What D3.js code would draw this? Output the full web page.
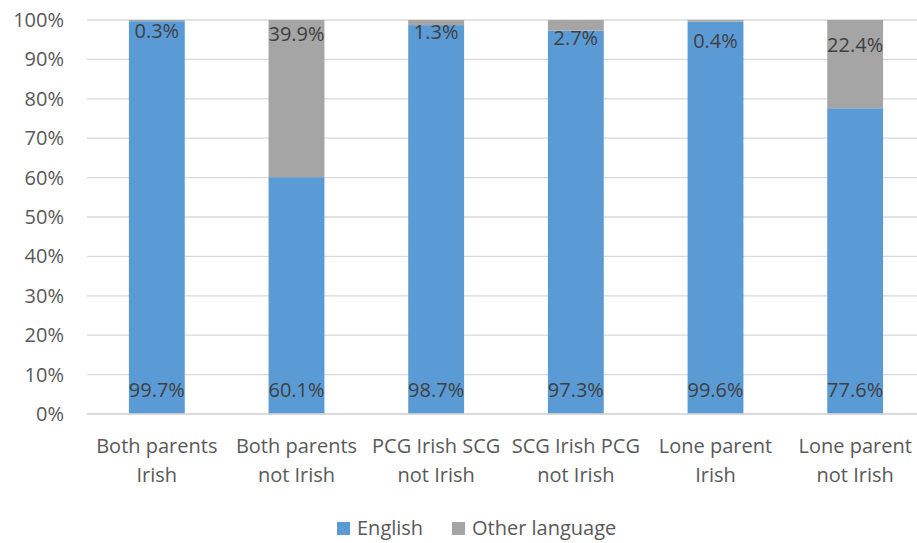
<!DOCTYPE html>
<html><head><meta charset="utf-8">
<script src="https://cdn.jsdelivr.net/npm/d3@7"></script>
<style>body{margin:0;background:#fff}svg{display:block}text{font-family:"Open Sans",sans-serif}</style>
</head><body><svg id="c" width="917" height="543"></svg>
<script>
const categories = [["Both parents","Irish"],["Both parents","not Irish"],["PCG Irish SCG","not Irish"],["SCG Irish PCG","not Irish"],["Lone parent","Irish"],["Lone parent","not Irish"]];
const english = [99.7, 60.1, 98.7, 97.3, 99.6, 77.6];
const other = [0.3, 39.9, 1.3, 2.7, 0.4, 22.4];
const seriesNames = ["English", "Other language"];
const yTicks = [0,10,20,30,40,50,60,70,80,90,100];

// layout
const colors = ["#5B9BD5", "#A5A5A5"];
const otherLabelDy = [11, 14, 12, 18, 21, 25];
const FS = "20px";
const svg = d3.select("#c");
const x = d3.scaleBand().domain(d3.range(categories.length)).range([87, 925]).paddingInner(0.6).paddingOuter(0.3);
const y = d3.scaleLinear().domain([0, 100]).range([414, 20]);

// grid
svg.append("g").selectAll("line").data(yTicks).join("line")
  .attr("x1", 87).attr("x2", 917).attr("y1", d => y(d)).attr("y2", d => y(d))
  .attr("stroke", "#d9d9d9").attr("stroke-width", 1.3);

// y axis labels
const ya = svg.append("g").attr("transform", "translate(64,0)")
  .call(d3.axisLeft(y).tickValues(yTicks).tickFormat(d => d + "%").tickSize(0).tickPadding(0));
ya.select(".domain").remove();
ya.selectAll("text").attr("fill", "#595959").style("font-size", FS).style("font-family", '"Open Sans",sans-serif');

const stack = categories.map((c, i) => ({i, e: english[i], o: other[i]}));
// bars
const g = svg.append("g");
g.selectAll(".e").data(stack).join("rect")
  .attr("x", d => x(d.i)).attr("width", x.bandwidth())
  .attr("y", d => y(d.e)).attr("height", d => y(0) - y(d.e)).attr("fill", colors[0]);
g.selectAll(".o").data(stack).join("rect")
  .attr("x", d => x(d.i)).attr("width", x.bandwidth())
  .attr("y", d => y(d.e + d.o)).attr("height", d => y(d.e) - y(d.e + d.o)).attr("fill", colors[1]);

// redraw zero line
svg.append("line").attr("x1", 87).attr("x2", 917).attr("y1", y(0)).attr("y2", y(0)).attr("stroke", "#d9d9d9").attr("stroke-width", 1.5);

// value labels
const lab = svg.append("g").style("font-size", FS).attr("fill", "#404040").attr("text-anchor", "middle");
lab.selectAll(".le").data(stack).join("text")
  .attr("x", d => x(d.i) + x.bandwidth()/2).attr("y", y(0) - 24).attr("dy", "0.35em")
  .text(d => d.e.toFixed(1) + "%");
lab.selectAll(".lo").data(stack).join("text")
  .attr("x", d => x(d.i) + x.bandwidth()/2).attr("y", d => y(100) + otherLabelDy[d.i]).attr("dy", "0.35em")
  .text(d => d.o.toFixed(1) + "%");

// category labels
const cl = svg.append("g").style("font-size", FS).attr("fill", "#595959").attr("text-anchor", "middle");
categories.forEach((c, i) => {
  c.forEach((line, j) => {
    cl.append("text").attr("x", x(i) + x.bandwidth()/2).attr("y", 446 + j*29).attr("dy", "0.35em").text(line);
  });
});

// legend
const lg = svg.append("g").style("font-size", FS).attr("fill", "#595959");
const legX = [337, 452];
seriesNames.forEach((n, i) => {
  lg.append("rect").attr("x", legX[i]).attr("y", 522).attr("width", 13).attr("height", 13).attr("fill", colors[i]);
  lg.append("text").attr("x", legX[i] + 20).attr("y", 528).attr("dy", "0.35em").text(n);
});
</script></body></html>
